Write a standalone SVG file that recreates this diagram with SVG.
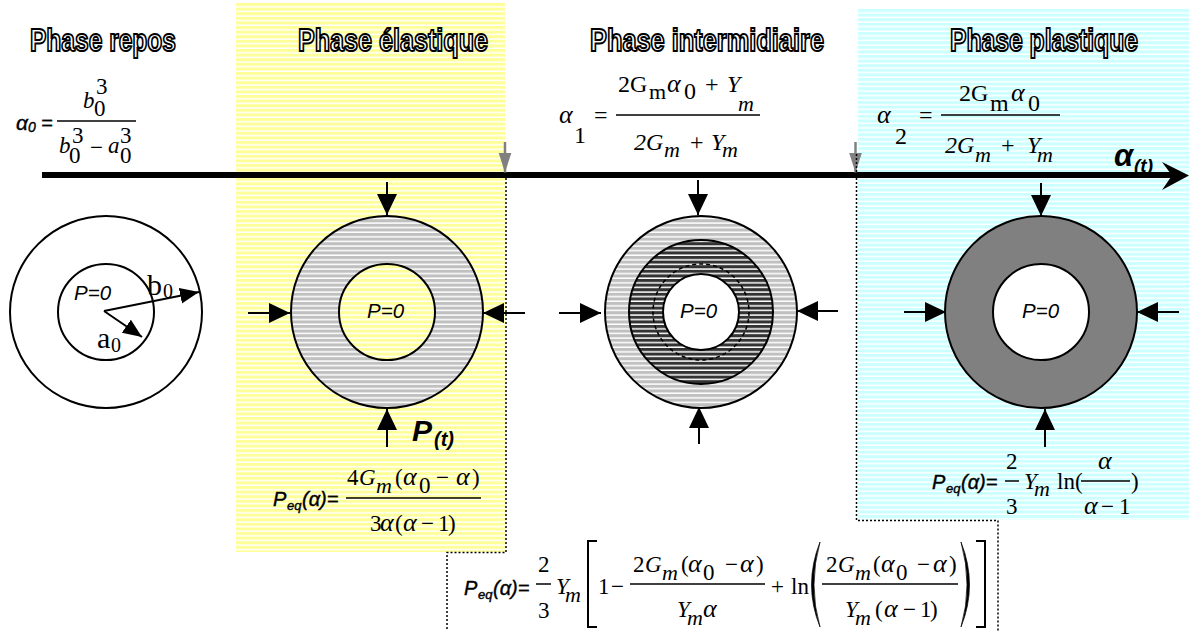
<svg xmlns="http://www.w3.org/2000/svg" width="1189" height="631" viewBox="0 0 1189 631">
<defs>
<pattern id="py" width="10" height="4.6" patternUnits="userSpaceOnUse" y="3"><rect width="10" height="4.6" fill="#ffff99"/><rect y="3.1" width="10" height="1.5" fill="#fff"/></pattern>
<pattern id="pc" width="10" height="4.6" patternUnits="userSpaceOnUse" y="9"><rect width="10" height="4.6" fill="#ccffff"/><rect y="3.1" width="10" height="1.5" fill="#fff"/></pattern>
<pattern id="pg" width="10" height="4.6" patternUnits="userSpaceOnUse" y="3"><rect width="10" height="4.6" fill="#c0c0c0"/><rect y="3.1" width="10" height="1.5" fill="#fff"/></pattern>
<pattern id="pd" width="10" height="4.6" patternUnits="userSpaceOnUse" y="3"><rect width="10" height="4.6" fill="#333"/><rect y="3.1" width="10" height="1.5" fill="#fff"/></pattern>
<marker id="a" markerUnits="userSpaceOnUse" markerWidth="22" markerHeight="22" refX="21" refY="10" orient="auto"><path d="M0 0L21 10L0 20Z" fill="#000"/></marker>
<marker id="as" markerUnits="userSpaceOnUse" markerWidth="20" markerHeight="18" refX="19" refY="8" orient="auto"><path d="M0 0L19 8L0 16Z" fill="#000"/></marker>
<marker id="ag" markerUnits="userSpaceOnUse" markerWidth="21" markerHeight="14" refX="20" refY="6.500" orient="auto"><path d="M0 0L20 6.500L0 13Z" fill="#808080"/></marker>
</defs>
<style>
.t{font-family:"Liberation Sans",Arial,sans-serif;font-weight:700;font-size:32px;fill:#fff;stroke:#000;stroke-width:2px}
.a{font-family:"Liberation Sans",Arial,sans-serif;font-style:italic;fill:#000}
.b{stroke:#000;stroke-width:0.4px}
.s{font-family:"Liberation Serif","Times New Roman",serif;font-size:23px;fill:#000}
.i{font-style:italic}
.al{font-style:italic;font-size:26px}
.f{stroke:#000;stroke-width:1.5;fill:none}
.c{stroke:#000;stroke-width:2}
.ar{stroke:#000;stroke-width:2;fill:none;marker-end:url(#a)}
.ars{stroke:#000;stroke-width:2;fill:none;marker-end:url(#as)}
.g{stroke:#808080;stroke-width:2.500;fill:none;marker-end:url(#ag)}
.d{stroke:#000;stroke-width:1.500;stroke-dasharray:2 2;fill:none}
</style>
<g id="bands">
<rect x="236" y="3" width="269" height="549" fill="url(#py)"/>
<rect x="858" y="9" width="331" height="511" fill="url(#pc)"/>
</g>
<g id="boundaries">
<path class="d" d="M506 178V552.500H447V631"/>
<path class="d" d="M856.500 178V520.500H998V631"/>
</g>
<g id="titles">
<text class="t" x="30" y="51" textLength="146" lengthAdjust="spacingAndGlyphs">Phase repos</text>
<text class="t" x="298" y="51" textLength="190" lengthAdjust="spacingAndGlyphs">Phase élastique</text>
<text class="t" x="590" y="51" textLength="234" lengthAdjust="spacingAndGlyphs">Phase intermidiaire</text>
<text class="t" x="950" y="51" textLength="188" lengthAdjust="spacingAndGlyphs">Phase plastique</text>
</g>
<g id="node-repos">
<circle class="c" cx="106" cy="312" r="96" fill="#fff"/>
<circle class="c" cx="106" cy="312" r="48" fill="#fff"/>
<text class="a" x="74" y="300" font-size="20.500">P=0</text>
<text class="s" x="147" y="295" style="font-size:30px">b</text><text class="s" x="163" y="298" style="font-size:20px">0</text>
<text class="s" x="97" y="348" style="font-size:30px">a</text><text class="s" x="111" y="352" style="font-size:20px">0</text>
<path class="ars" d="M104 311L199 292"/>
<path class="ars" d="M104 311L142 337"/>
</g>
<g id="node-elastique">
<circle class="c" cx="387" cy="312" r="96" fill="url(#pg)"/>
<circle class="c" cx="387" cy="312" r="48" fill="url(#py)"/>
<text class="a" x="367" y="318" font-size="20.500">P=0</text>
</g>
<g id="node-intermediaire">
<circle class="c" cx="701" cy="312" r="96" fill="url(#pg)"/>
<circle class="c" cx="701" cy="312" r="72" fill="url(#pd)"/>
<circle cx="701" cy="312" r="48" fill="none" stroke="#000" stroke-width="1.500" stroke-dasharray="4 3"/>
<circle class="c" cx="701" cy="312" r="38" fill="#fff"/>
<text class="a" x="680" y="318" font-size="20.500">P=0</text>
</g>
<g id="node-plastique">
<circle class="c" cx="1041" cy="312" r="96" fill="#808080"/>
<circle class="c" cx="1041" cy="312" r="48" fill="#fff"/>
<text class="a" x="1022" y="318" font-size="20.500">P=0</text>
</g>
<g id="connectors">
<path d="M42 175H1176" stroke="#000" stroke-width="6"/>
<path d="M1162 162L1189 175.500L1162 190L1172 175.500Z" fill="#000"/>
<path class="g" d="M505 142V172.500"/>
<path class="g" d="M855.500 142V172.500"/>
<path class="d" d="M856.500 154V172"/>
<path class="ar" d="M387 182V215"/>
<path class="ar" d="M387 447V409"/>
<path class="ar" d="M248 313H290"/>
<path class="ar" d="M525 313H483"/>
<path class="ar" d="M698 180V215"/>
<path class="ar" d="M699 444V407"/>
<path class="ar" d="M559 313H601"/>
<path class="ar" d="M838 311H797"/>
<path class="ar" d="M1041 183V216"/>
<path class="ar" d="M1045 447V409"/>
<path class="ar" d="M904 312H946"/>
<path class="ar" d="M1179 312H1137"/>
</g>
<g id="formulas">
<text class="a b" x="16" y="130" font-size="21">α<tspan font-size="14" dy="2">0</tspan></text><text class="a b" x="41" y="130" font-size="20" font-style="normal">=</text>
<path class="f" d="M57 121H136"/>
<text class="s"><tspan class="i" x="83" y="108">b</tspan><tspan x="94" y="116">0</tspan><tspan x="96" y="94">3</tspan></text>
<text class="s"><tspan class="i" x="59" y="153">b</tspan><tspan x="69" y="163">0</tspan><tspan x="72" y="143">3</tspan><tspan x="90" y="155">−</tspan><tspan class="i" x="108" y="153">a</tspan><tspan x="120" y="163">0</tspan><tspan x="120" y="143">3</tspan></text>

<text class="s" style="font-size:24px"><tspan class="al" x="559" y="123">α</tspan><tspan x="574" y="143">1</tspan><tspan x="594" y="123">=</tspan></text>
<path class="f" d="M616 115H760"/>
<text class="s" style="font-size:24px"><tspan x="618" y="92">2G</tspan><tspan x="649" y="99" style="font-size:22px">m</tspan><tspan class="al" x="667" y="92">α</tspan><tspan x="684" y="99">0</tspan><tspan x="705" y="92">+</tspan><tspan class="i" x="727" y="92">Y</tspan><tspan class="i" x="738" y="111" style="font-size:22px">m</tspan></text>
<text class="s i" style="font-size:24px"><tspan x="634" y="150">2G</tspan><tspan x="664" y="157" style="font-size:22px">m</tspan><tspan x="690" y="150" font-style="normal">+</tspan><tspan x="711" y="150">Y</tspan><tspan x="722" y="157" style="font-size:22px">m</tspan></text>

<text class="s" style="font-size:24px"><tspan class="al" x="877" y="123">α</tspan><tspan x="895" y="144">2</tspan><tspan x="919" y="123">=</tspan></text>
<path class="f" d="M941 115H1060"/>
<text class="s" style="font-size:24px"><tspan x="959" y="101">2G</tspan><tspan x="990" y="111" style="font-size:24px">m</tspan><tspan class="al" x="1011" y="101">α</tspan><tspan x="1028" y="111">0</tspan></text>
<text class="s i" style="font-size:24px"><tspan x="945" y="153">2G</tspan><tspan x="975" y="162" style="font-size:22px">m</tspan><tspan x="1001" y="153" font-style="normal">+</tspan><tspan x="1027" y="153">Y</tspan><tspan x="1037" y="162" style="font-size:22px">m</tspan></text>

<text class="a" font-weight="700"><tspan x="1114" y="166" font-size="31">α</tspan><tspan x="1134" y="172" font-size="19">(t)</tspan></text>
<text class="a" font-weight="700"><tspan x="412" y="441" font-size="30">P</tspan><tspan x="434" y="446" font-size="20">(t)</tspan></text>

<text class="a b" font-size="20"><tspan x="273" y="506">P</tspan><tspan x="287" y="510" font-size="13">eq</tspan><tspan x="302" y="506">(α)=</tspan></text>
<path class="f" d="M346 498H481"/>
<text class="s"><tspan x="347" y="485">4</tspan><tspan class="i" x="359" y="485">G</tspan><tspan class="i" x="376" y="493" style="font-size:22px">m</tspan><tspan x="395" y="485">(</tspan><tspan class="al" x="403" y="485">α</tspan><tspan x="419" y="493">0</tspan><tspan x="436" y="485">−</tspan><tspan class="al" x="456" y="485">α</tspan><tspan x="472" y="485">)</tspan></text>
<text class="s"><tspan x="370" y="531">3</tspan><tspan class="al" x="380" y="531">α</tspan><tspan x="395" y="531">(</tspan><tspan class="al" x="403" y="531">α</tspan><tspan x="421" y="531">−</tspan><tspan x="438" y="531">1</tspan><tspan x="448" y="531">)</tspan></text>

<text class="a b" font-size="20"><tspan x="932" y="489">P</tspan><tspan x="946" y="493" font-size="13">eq</tspan><tspan x="961" y="489">(α)=</tspan></text>
<path class="f" d="M1005 481H1019"/>
<text class="s"><tspan x="1006" y="469">2</tspan><tspan x="1006" y="514">3</tspan><tspan class="i" x="1024" y="489">Y</tspan><tspan class="i" x="1034" y="496" style="font-size:22px">m</tspan><tspan x="1057" y="489">ln(</tspan><tspan x="1131" y="489">)</tspan><tspan class="al" x="1098" y="469">α</tspan><tspan class="al" x="1084" y="514">α</tspan><tspan x="1101" y="514">−</tspan><tspan x="1119" y="514">1</tspan></text>
<path class="f" d="M1081 481H1130"/>

<text class="a b" font-size="20"><tspan x="464" y="595">P</tspan><tspan x="478" y="599" font-size="13">eq</tspan><tspan x="493" y="595">(α)=</tspan></text>
<path class="f" d="M536 584H551"/>
<text class="s"><tspan x="538" y="572">2</tspan><tspan x="538" y="618">3</tspan><tspan class="i" x="556" y="594">Y</tspan><tspan class="i" x="565" y="602" style="font-size:22px">m</tspan><tspan x="598" y="594">1</tspan><tspan x="611" y="594">−</tspan><tspan x="771" y="594">+</tspan><tspan x="791" y="594">ln</tspan></text>
<path d="M597 541H588V627H597M976 541H985V627H976" fill="none" stroke="#000" stroke-width="2"/>
<path class="f" d="M630 584H765"/>
<text class="s"><tspan x="633" y="572">2</tspan><tspan class="i" x="645" y="572">G</tspan><tspan class="i" x="662" y="580" style="font-size:22px">m</tspan><tspan x="681" y="572">(</tspan><tspan class="al" x="688" y="572">α</tspan><tspan x="703" y="580">0</tspan><tspan x="725" y="572">−</tspan><tspan class="al" x="740" y="572">α</tspan><tspan x="756" y="572">)</tspan></text>
<text class="s"><tspan class="i" x="677" y="617">Y</tspan><tspan class="i" x="687" y="625" style="font-size:22px">m</tspan><tspan class="al" x="703" y="617">α</tspan></text>
<path d="M820 542Q803 585 820 627Q808 585 820 542ZM961 542Q978 585 961 627Q973 585 961 542Z" fill="#000" stroke="#000" stroke-width="0.700"/>
<path class="f" d="M822 584H958"/>
<text class="s"><tspan x="826" y="572">2</tspan><tspan class="i" x="838" y="572">G</tspan><tspan class="i" x="855" y="580" style="font-size:22px">m</tspan><tspan x="873" y="572">(</tspan><tspan class="al" x="881" y="572">α</tspan><tspan x="896" y="580">0</tspan><tspan x="917" y="572">−</tspan><tspan class="al" x="933" y="572">α</tspan><tspan x="949" y="572">)</tspan></text>
<text class="s"><tspan class="i" x="845" y="617">Y</tspan><tspan class="i" x="855" y="625" style="font-size:22px">m</tspan><tspan x="875" y="617">(</tspan><tspan class="al" x="884" y="617">α</tspan><tspan x="903" y="617">−</tspan><tspan x="920" y="617">1</tspan><tspan x="930" y="617">)</tspan></text>
</g>
</svg>
